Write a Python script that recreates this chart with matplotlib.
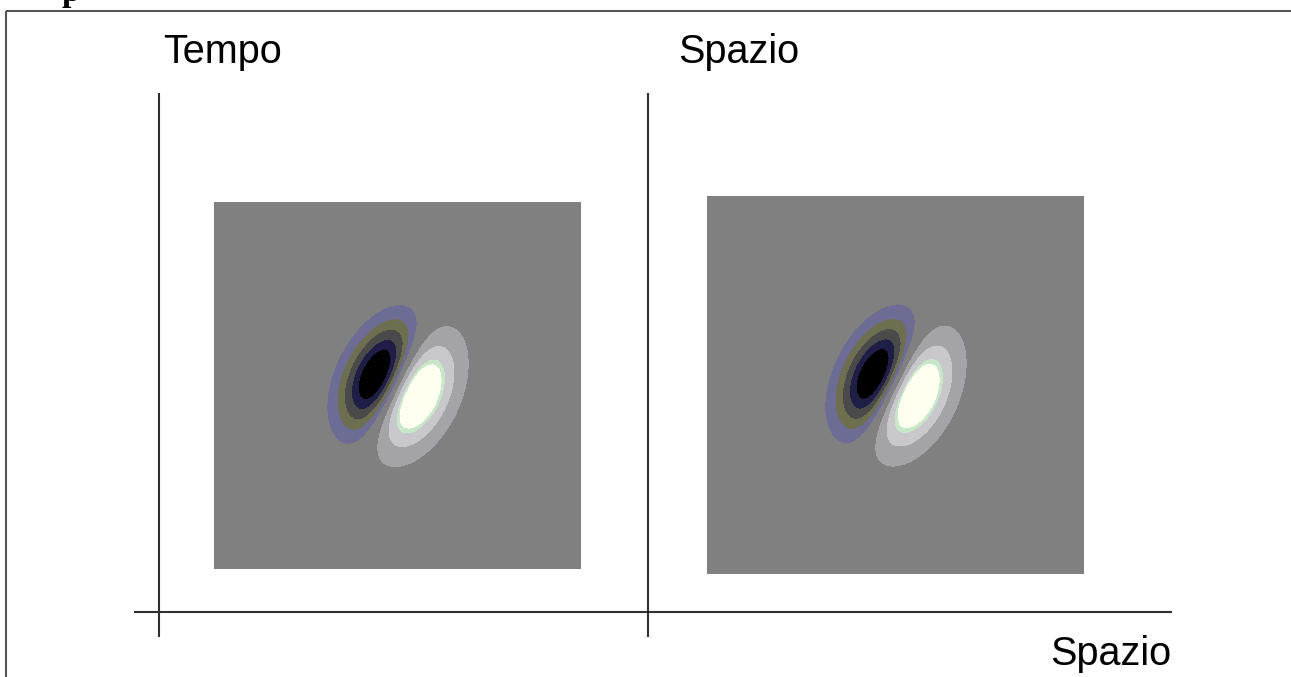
import numpy as np
import matplotlib
matplotlib.use("Agg")
import matplotlib.pyplot as plt

W, H = 1291, 677

# receptive field parameters (pixels / degrees)
SIGMA_U = 25.0      # across the lobes
SIGMA_V = 39.0      # along the lobes
TILT_DEG = 64.0

# contour bands, dark lobe -> background -> bright lobe
LEVELS = [-5, -0.78, -0.62, -0.45, -0.3, -0.15, 0.15, 0.38, 0.6, 0.68, 5]
BAND_COLORS = ["#000000", "#1e1e46", "#4a4a4a", "#6e6e50", "#6c6c94",
               "#808080", "#a4a4a8", "#c8c8cc", "#c8e6c8", "#fffff0"]

# panel boxes: left, top, right, bottom
PANELS = [(214, 202, 581, 569), (707, 196, 1084, 574)]
AXIS_X = [159, 648]
TITLES = ["Tempo", "Spazio"]
TITLE_X = [163, 678]


def receptive_field(X, Y):
    """odd gabor-like profile in pixel coordinates"""
    th = np.deg2rad(TILT_DEG)
    u = X * np.sin(th) + Y * np.cos(th)
    v = X * np.cos(th) - Y * np.sin(th)
    return (u / SIGMA_U) * np.exp(0.5 - u**2 / (2 * SIGMA_U**2) - v**2 / (2 * SIGMA_V**2))


fig = plt.figure(figsize=(W / 100, H / 100), dpi=100)
ax = fig.add_axes([0, 0, 1, 1])
ax.set_xlim(0, W)
ax.set_ylim(H, 0)
ax.axis("off")

# page frame and the clipped letter above it
ax.plot([6, W], [11, 11], color="#555555", lw=1.5, solid_capstyle="butt")
ax.plot([6, 6], [11, H], color="#555555", lw=1.5, solid_capstyle="butt")
ax.text(62, 1, "p", fontsize=24, fontweight="bold", family="Liberation Serif",
        va="baseline", ha="left", color="black")

# axes lines
line_kw = dict(color="#303030", lw=1.5, solid_capstyle="butt")
ax.plot([134, 1172], [612, 612], **line_kw)
for x in AXIS_X:
    ax.plot([x, x], [93, 637], **line_kw)

for x, t in zip(TITLE_X, TITLES):
    ax.text(x, 63, t, fontsize=28.5, family="Liberation Sans", va="baseline", ha="left")
ax.text(1171, 665, "Spazio", fontsize=28.5, family="Liberation Sans", va="baseline", ha="right")

for (l, t, r, b) in PANELS:
    pax = fig.add_axes([l / W, 1 - b / H, (r - l) / W, (b - t) / H])
    cx, cy = (l + r) / 2, (t + b) / 2
    xs = np.linspace(l - cx, r - cx, 400)
    ys = np.linspace(t - cy, b - cy, 400)
    X, Y = np.meshgrid(xs, ys)
    pax.contourf(X, Y, receptive_field(X, Y), levels=LEVELS, colors=BAND_COLORS)
    pax.set_xlim(xs[0], xs[-1])
    pax.set_ylim(ys[-1], ys[0])
    pax.set_facecolor("#808080")
    pax.axis("off")

fig.savefig("out.png", dpi=100)
